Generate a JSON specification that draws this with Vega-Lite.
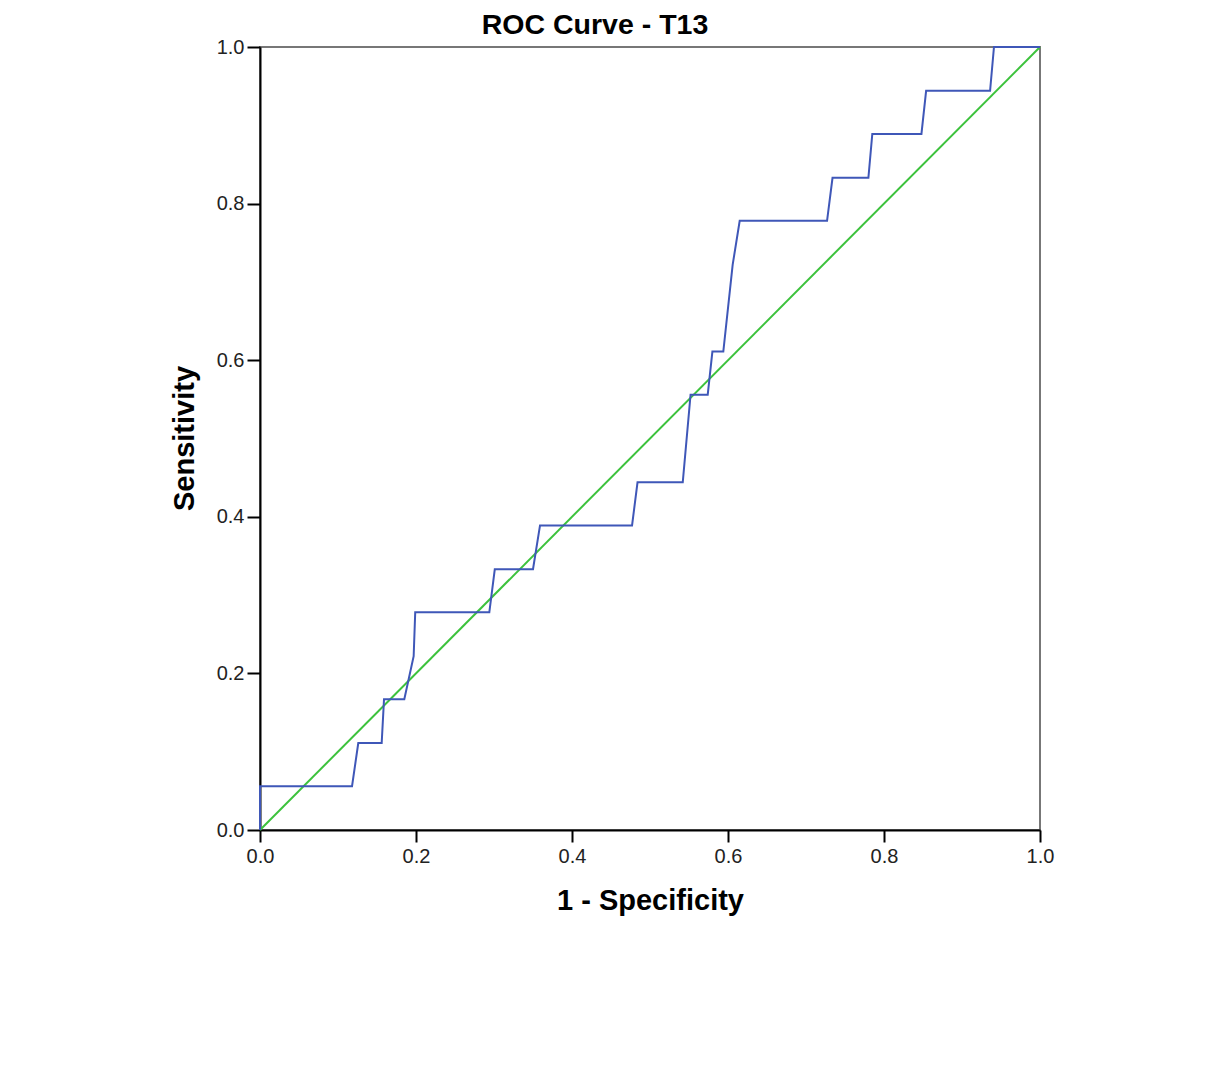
{
  "$schema": "https://vega.github.io/schema/vega-lite/v6.json",
  "width": 780,
  "height": 783,
  "autosize": {"type": "none"},
  "padding": {"left": 260, "top": 47, "right": 172, "bottom": 244},
  "background": "white",
  "config": {
    "view": {"stroke": "#777777", "strokeWidth": 2},
    "font": "Liberation Sans"
  },
  "title": {
    "text": "ROC Curve - T13",
    "font": "Liberation Sans",
    "fontSize": 28.5,
    "fontWeight": "bold",
    "color": "#000000",
    "anchor": "middle",
    "frame": "group",
    "dx": -55,
    "dy": 39,
    "offset": 14,
    "baseline": "alphabetic"
  },
  "datasets": {
    "roc": [
      {"fpr": 0.0, "tpr": 0.0, "i": 0},
      {"fpr": 0.0, "tpr": 0.056, "i": 1},
      {"fpr": 0.118, "tpr": 0.056, "i": 2},
      {"fpr": 0.126, "tpr": 0.111, "i": 3},
      {"fpr": 0.156, "tpr": 0.111, "i": 4},
      {"fpr": 0.159, "tpr": 0.167, "i": 5},
      {"fpr": 0.185, "tpr": 0.167, "i": 6},
      {"fpr": 0.197, "tpr": 0.222, "i": 7},
      {"fpr": 0.199, "tpr": 0.278, "i": 8},
      {"fpr": 0.294, "tpr": 0.278, "i": 9},
      {"fpr": 0.301, "tpr": 0.333, "i": 10},
      {"fpr": 0.35, "tpr": 0.333, "i": 11},
      {"fpr": 0.359, "tpr": 0.389, "i": 12},
      {"fpr": 0.477, "tpr": 0.389, "i": 13},
      {"fpr": 0.484, "tpr": 0.444, "i": 14},
      {"fpr": 0.542, "tpr": 0.444, "i": 15},
      {"fpr": 0.552, "tpr": 0.556, "i": 16},
      {"fpr": 0.574, "tpr": 0.556, "i": 17},
      {"fpr": 0.58, "tpr": 0.611, "i": 18},
      {"fpr": 0.594, "tpr": 0.611, "i": 19},
      {"fpr": 0.606, "tpr": 0.722, "i": 20},
      {"fpr": 0.615, "tpr": 0.778, "i": 21},
      {"fpr": 0.727, "tpr": 0.778, "i": 22},
      {"fpr": 0.734, "tpr": 0.833, "i": 23},
      {"fpr": 0.78, "tpr": 0.833, "i": 24},
      {"fpr": 0.785, "tpr": 0.889, "i": 25},
      {"fpr": 0.848, "tpr": 0.889, "i": 26},
      {"fpr": 0.854, "tpr": 0.944, "i": 27},
      {"fpr": 0.936, "tpr": 0.944, "i": 28},
      {"fpr": 0.941, "tpr": 1.0, "i": 29},
      {"fpr": 1.0, "tpr": 1.0, "i": 30}
    ],
    "ref": [
      {"fpr": 0.0, "tpr": 0.0, "i": 0},
      {"fpr": 1.0, "tpr": 1.0, "i": 1}
    ]
  },
  "encoding": {
    "x": {
      "field": "fpr",
      "type": "quantitative",
      "scale": {"domain": [0, 1], "nice": false, "zero": false},
      "axis": {
        "title": "1 - Specificity",
        "values": [0, 0.2, 0.4, 0.6, 0.8, 1.0],
        "format": ".1f",
        "grid": false,
        "domainColor": "#000000",
        "domainWidth": 2,
        "tickColor": "#000000",
        "tickWidth": 2,
        "tickSize": 12,
        "labelPadding": 4,
        "labelFont": "Liberation Sans",
        "labelFontSize": 20,
        "labelColor": "#222222",
        "labelFlush": false,
        "labelOverlap": false,
        "titleFont": "Liberation Sans",
        "titleFontSize": 29,
        "titleFontWeight": "bold",
        "titleColor": "#000000",
        "titleBaseline": "alphabetic",
        "titleY": 79
      }
    },
    "y": {
      "field": "tpr",
      "type": "quantitative",
      "scale": {"domain": [0, 1], "nice": false, "zero": false},
      "axis": {
        "title": "Sensitivity",
        "values": [0, 0.2, 0.4, 0.6, 0.8, 1.0],
        "format": ".1f",
        "grid": false,
        "domainColor": "#000000",
        "domainWidth": 2,
        "tickColor": "#000000",
        "tickWidth": 2,
        "tickSize": 13,
        "labelPadding": 3,
        "labelFont": "Liberation Sans",
        "labelFontSize": 20,
        "labelColor": "#222222",
        "labelFlush": false,
        "labelOverlap": false,
        "titleFont": "Liberation Sans",
        "titleFontSize": 29,
        "titleFontWeight": "bold",
        "titleColor": "#000000",
        "titleBaseline": "alphabetic",
        "titleX": -67,
        "titleY": 391
      }
    },
    "order": {"field": "i", "type": "quantitative"}
  },
  "layer": [
    {
      "data": {"name": "ref"},
      "mark": {"type": "line", "color": "#3cc23c", "strokeWidth": 2}
    },
    {
      "data": {"name": "roc"},
      "mark": {"type": "line", "color": "#3f57b8", "strokeWidth": 2}
    }
  ]
}
